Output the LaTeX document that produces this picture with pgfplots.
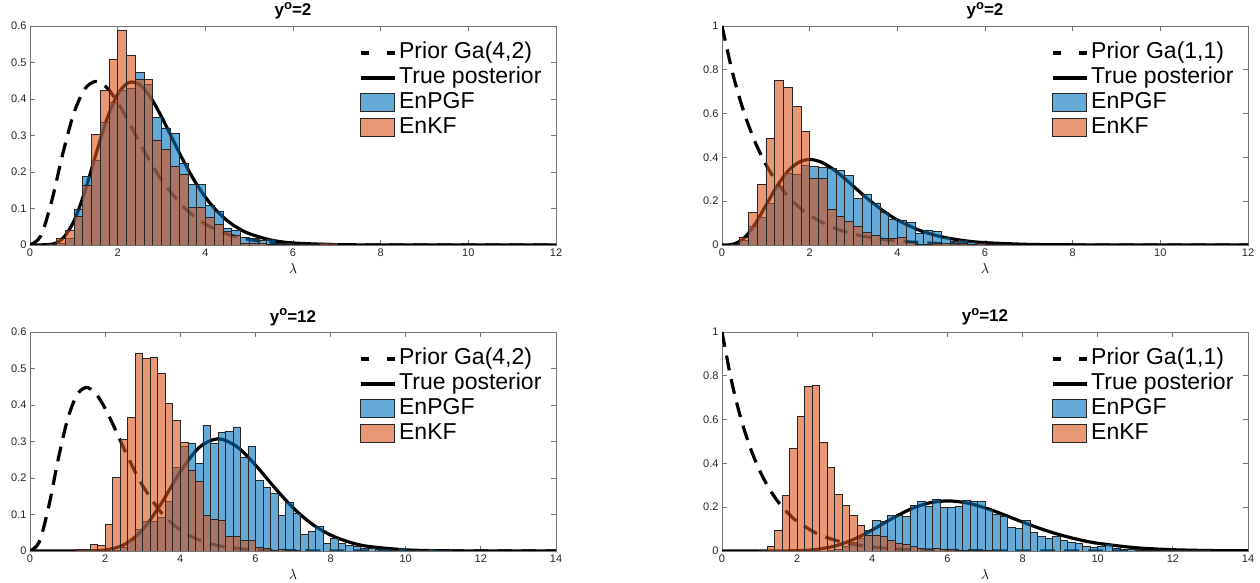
\documentclass[border=0pt]{standalone}
\usepackage{fontspec}
\setmainfont{Liberation Sans}
\usepackage{pgfplots}
\pgfplotsset{compat=1.18}
\definecolor{pgfblue}{rgb}{0,0.447,0.741}
\definecolor{kforange}{rgb}{0.85,0.325,0.098}
\newcommand{\yo}{y\raisebox{0.38em}{\fontsize{13}{13}\selectfont o}}
\pgfplotsset{
  panel/.style={
    scale only axis, width=526pt, height=219pt,
    axis line style={draw=black!55, line width=0.8pt},
    every tick/.style={draw=black!55, line width=0.8pt},
    major tick length=5pt,
    tick align=inside,
    ticklabel style={font=\fontsize{11}{13}\selectfont, text=black!85},
    /pgf/number format/assume math mode=true,
    title style={font=\bfseries\fontsize{17}{19}\selectfont, at={(0.5,1)}, anchor=base, yshift=4pt, inner sep=0pt},
    xlabel={$\lambda$},
    xlabel style={font=\fontsize{14}{15}\selectfont, at={(0.5,0)}, anchor=base, yshift=-29pt, inner sep=0pt},
    legend style={draw=none, fill=none, font=\fontsize{23}{25}\selectfont,
      at={(0.625,0.93)}, anchor=north west, inner sep=0pt, row sep=2pt, column sep=2pt,
      nodes={inner sep=1pt, text height=16pt, text depth=5pt}},
    legend cell align=left,
    xmin=0, ymin=0,
  },
  prior/.style={black, line width=3.2pt, dash pattern=on 15pt off 9pt, smooth,
    legend image code/.code={\draw[black, line width=3.2pt] (0pt,0pt)--(8pt,0pt) (26pt,0pt)--(34pt,0pt);}},
  post/.style={black, line width=3.2pt, smooth,
    legend image code/.code={\draw[black, line width=3.2pt] (0pt,0pt)--(34pt,0pt);}},
  hpgf/.style={ybar interval, fill=pgfblue, fill opacity=0.6, draw=black!85, line width=0.6pt,
    legend image code/.code={\draw[fill=pgfblue, fill opacity=0.6, draw=black!85, line width=0.6pt] (0pt,-8pt) rectangle (34pt,10pt);}},
  hkf/.style={ybar interval, fill=kforange, fill opacity=0.6, draw=black!85, line width=0.6pt,
    legend image code/.code={\draw[fill=kforange, fill opacity=0.6, draw=black!85, line width=0.6pt] (0pt,-8pt) rectangle (34pt,10pt);}},
}
\begin{document}
\begin{tikzpicture}
\path[use as bounding box] (0,0) rectangle (1260pt,583pt);
% ---------------- Panel 1
\begin{axis}[panel, at={(30pt,338pt)}, anchor=south west,
  xmax=12, ymax=0.6, xtick={0,2,4,6,8,10,12}, ytick={0,0.1,0.2,0.3,0.4,0.5,0.6},
  title={\yo=2}]
\addplot[prior] coordinates {(0,0)(0.25,0.0253)(0.5,0.1226)(0.75,0.2510)(1,0.3609)(1.25,0.4275)(1.5,0.4481)(1.75,0.4316)(2,0.3907)(2.25,0.3374)(2.5,0.2807)(2.75,0.2267)(3,0.1785)(3.5,0.1043)(4,0.0573)(4.5,0.0300)(5,0.0151)(5.5,0.0074)(6,0.0035)(7,0.0008)(8,0.0002)(9,0)(12,0)};
\addlegendentry{Prior Ga(4,2)}
\addplot[post] coordinates {(0,0)(0.5,0.0023)(0.75,0.0183)(1,0.0648)(1.25,0.1460)(1.5,0.2471)(1.75,0.3434)(2,0.4130)(2.25,0.4450)(2.5,0.4395)(2.75,0.4045)(3,0.3514)(3.25,0.2907)(3.5,0.2306)(3.75,0.1766)(4,0.1311)(4.25,0.0946)(4.5,0.0667)(4.75,0.0460)(5,0.0311)(5.5,0.0135)(6,0.0056)(7,0.0008)(8,0.0001)(9,0)(12,0)};
\addlegendentry{True posterior}
\addplot[hpgf] coordinates {(0.6,0.005)(0.8,0.018)(1.0,0.098)(1.2,0.188)(1.4,0.233)(1.6,0.336)(1.8,0.391)(2.0,0.424)(2.2,0.428)(2.4,0.473)(2.6,0.439)(2.8,0.351)(3.0,0.321)(3.2,0.307)(3.4,0.224)(3.6,0.167)(3.8,0.167)(4.0,0.109)(4.2,0.093)(4.4,0.046)(4.6,0.041)(4.8,0.021)(5.0,0.018)(5.2,0.012)(5.4,0.016)(5.6,0.005)(5.8,0.004)(6.0,0.003)(6.2,0.002)(6.4,0.001)(6.6,0.001)(6.8,0)};
\addlegendentry{EnPGF}
\addplot[hkf] coordinates {(0.4,0.003)(0.6,0.018)(0.8,0.041)(1.0,0.078)(1.2,0.163)(1.4,0.304)(1.6,0.423)(1.8,0.510)(2.0,0.588)(2.2,0.521)(2.4,0.453)(2.6,0.453)(2.8,0.288)(3.0,0.261)(3.2,0.215)(3.4,0.195)(3.6,0.104)(3.8,0.104)(4.0,0.076)(4.2,0.057)(4.4,0.037)(4.6,0.026)(4.8,0.006)(5.0,0.006)(5.2,0.005)(5.4,0.002)(5.6,0.002)(5.8,0.003)(6.0,0.002)(6.2,0.001)(6.4,0.001)(6.6,0.004)(6.8,0.004)(7.0,0)};
\addlegendentry{EnKF}
\end{axis}
% ---------------- Panel 2
\begin{axis}[panel, at={(722pt,338pt)}, anchor=south west,
  xmax=12, ymax=1, xtick={0,2,4,6,8,10,12}, ytick={0,0.2,0.4,0.6,0.8,1},
  title={\yo=2}]
\addplot[prior] coordinates {(0,1)(0.25,0.7788)(0.5,0.6065)(0.75,0.4724)(1,0.3679)(1.25,0.2865)(1.5,0.2231)(1.75,0.1738)(2,0.1353)(2.5,0.0821)(3,0.0498)(3.5,0.0302)(4,0.0183)(4.5,0.0111)(5,0.0067)(6,0.0025)(7,0.0009)(8,0.0003)(9,0.0001)(10,0)(12,0)};
\addlegendentry{Prior Ga(1,1)}
\addplot[post] coordinates {(0,0)(0.25,0.0032)(0.5,0.0307)(0.75,0.0941)(1,0.1804)(1.25,0.2672)(1.5,0.3361)(1.75,0.3776)(2,0.3907)(2.25,0.3796)(2.5,0.3509)(2.75,0.3116)(3,0.2677)(3.25,0.2236)(3.5,0.1825)(3.75,0.1458)(4,0.1145)(4.5,0.0675)(5,0.0378)(5.5,0.0204)(6,0.0106)(7,0.0027)(8,0.0006)(9,0.0001)(10,0)(12,0)};
\addlegendentry{True posterior}
\addplot[hpgf] coordinates {(0.2,0.003)(0.4,0.020)(0.6,0.084)(0.8,0.127)(1.0,0.189)(1.2,0.267)(1.4,0.328)(1.6,0.322)(1.8,0.362)(2.0,0.360)(2.2,0.354)(2.4,0.351)(2.6,0.340)(2.8,0.319)(3.0,0.212)(3.2,0.232)(3.4,0.191)(3.6,0.148)(3.8,0.119)(4.0,0.115)(4.2,0.102)(4.4,0.053)(4.6,0.069)(4.8,0.061)(5.0,0.035)(5.2,0.015)(5.4,0.020)(5.6,0.012)(5.8,0.008)(6.0,0.005)(6.2,0.003)(6.4,0.002)(6.6,0)};
\addlegendentry{EnPGF}
\addplot[hkf] coordinates {(0.4,0.035)(0.6,0.148)(0.8,0.275)(1.0,0.489)(1.2,0.751)(1.4,0.718)(1.6,0.634)(1.8,0.518)(2.0,0.305)(2.2,0.305)(2.4,0.163)(2.6,0.130)(2.8,0.107)(3.0,0.087)(3.2,0.060)(3.4,0.043)(3.6,0.029)(3.8,0.029)(4.0,0.034)(4.2,0.012)(4.4,0.002)(4.6,0.005)(4.8,0.008)(5.0,0.008)(5.2,0.006)(5.4,0.008)(5.6,0.004)(5.8,0.006)(6.0,0.003)(6.2,0)};
\addlegendentry{EnKF}
\end{axis}
% ---------------- Panel 3
\begin{axis}[panel, at={(30pt,32pt)}, anchor=south west,
  xmax=14, ymax=0.6, xtick={0,2,4,6,8,10,12,14}, ytick={0,0.1,0.2,0.3,0.4,0.5,0.6},
  title={\yo=12}]
\addplot[prior] coordinates {(0,0)(0.25,0.0253)(0.5,0.1226)(0.75,0.2510)(1,0.3609)(1.25,0.4275)(1.5,0.4481)(1.75,0.4316)(2,0.3907)(2.25,0.3374)(2.5,0.2807)(2.75,0.2267)(3,0.1785)(3.5,0.1043)(4,0.0573)(4.5,0.0300)(5,0.0151)(5.5,0.0074)(6,0.0035)(7,0.0008)(8,0.0002)(9,0)(14,0)};
\addlegendentry{Prior Ga(4,2)}
\addplot[post] coordinates {(0,0)(1,0)(1.5,0.0002)(2,0.0027)(2.5,0.0170)(3,0.0583)(3.5,0.1313)(4,0.2171)(4.5,0.2835)(5,0.3074)(5.5,0.2863)(6,0.2356)(6.5,0.1748)(7,0.1185)(7.5,0.0744)(8,0.0437)(8.5,0.0242)(9,0.0127)(10,0.0031)(11,0.0006)(12,0.0001)(13,0)(14,0)};
\addlegendentry{True posterior}
\addplot[hpgf] coordinates {(2.2,0.003)(2.4,0.010)(2.6,0.030)(2.8,0.059)(3.0,0.082)(3.2,0.082)(3.4,0.093)(3.6,0.135)(3.8,0.228)(4.0,0.287)(4.2,0.296)(4.4,0.240)(4.6,0.345)(4.8,0.295)(5.0,0.324)(5.2,0.328)(5.4,0.340)(5.6,0.256)(5.8,0.287)(6.0,0.194)(6.2,0.174)(6.4,0.158)(6.6,0.098)(6.8,0.134)(7.0,0.103)(7.2,0.045)(7.4,0.055)(7.6,0.068)(7.8,0.021)(8.0,0.035)(8.2,0.021)(8.4,0.015)(8.6,0.012)(8.8,0.007)(9.0,0.007)(9.2,0.004)(9.4,0.004)(9.6,0.002)(9.8,0.007)(10.0,0.003)(10.2,0.002)(10.4,0.001)(10.6,0.004)(10.8,0.002)(11.0,0.003)(11.2,0)};
\addlegendentry{EnPGF}
\addplot[hkf] coordinates {(1.2,0.004)(1.4,0.004)(1.6,0.018)(1.8,0.016)(2.0,0.074)(2.2,0.202)(2.4,0.305)(2.6,0.366)(2.8,0.541)(3.0,0.527)(3.2,0.532)(3.4,0.486)(3.6,0.404)(3.8,0.358)(4.0,0.299)(4.2,0.220)(4.4,0.191)(4.6,0.098)(4.8,0.088)(5.0,0.085)(5.2,0.041)(5.4,0.039)(5.6,0.030)(5.8,0.030)(6.0,0.009)(6.2,0.007)(6.4,0.003)(6.6,0.005)(6.8,0.002)(7.0,0.002)(7.2,0)};
\addlegendentry{EnKF}
\end{axis}
% ---------------- Panel 4
\begin{axis}[panel, at={(722pt,32pt)}, anchor=south west,
  xmax=14, ymax=1, xtick={0,2,4,6,8,10,12,14}, ytick={0,0.2,0.4,0.6,0.8,1},
  title={\yo=12}]
\addplot[prior] coordinates {(0,1)(0.25,0.7788)(0.5,0.6065)(0.75,0.4724)(1,0.3679)(1.25,0.2865)(1.5,0.2231)(1.75,0.1738)(2,0.1353)(2.5,0.0821)(3,0.0498)(3.5,0.0302)(4,0.0183)(4.5,0.0111)(5,0.0067)(6,0.0025)(7,0.0009)(8,0.0003)(9,0.0001)(10,0)(14,0)};
\addlegendentry{Prior Ga(1,1)}
\addplot[post] coordinates {(0,0)(1,0)(2,0.0013)(2.5,0.0069)(3,0.0225)(3.5,0.0527)(4,0.0963)(4.5,0.1456)(5,0.1896)(5.5,0.2189)(6,0.2288)(6.5,0.2200)(7,0.1969)(7.5,0.1658)(8,0.1322)(8.5,0.1007)(9,0.0736)(9.5,0.0518)(10,0.0353)(11,0.0150)(12,0.0058)(13,0.0020)(14,0.0007)};
\addlegendentry{True posterior}
\addplot[hpgf] coordinates {(2.8,0.003)(3.0,0.008)(3.2,0.020)(3.4,0.040)(3.6,0.060)(3.8,0.095)(4.0,0.140)(4.2,0.134)(4.4,0.163)(4.6,0.164)(4.8,0.157)(5.0,0.210)(5.2,0.228)(5.4,0.202)(5.6,0.236)(5.8,0.198)(6.0,0.199)(6.2,0.202)(6.4,0.232)(6.6,0.225)(6.8,0.228)(7.0,0.191)(7.2,0.169)(7.4,0.160)(7.6,0.108)(7.8,0.102)(8.0,0.141)(8.2,0.084)(8.4,0.065)(8.6,0.059)(8.8,0.068)(9.0,0.047)(9.2,0.041)(9.4,0.035)(9.6,0.023)(9.8,0.017)(10.0,0.020)(10.2,0.030)(10.4,0.012)(10.6,0.008)(10.8,0.008)(11.0,0.005)(11.2,0.004)(11.4,0.003)(11.6,0.002)(11.8,0.002)(12.0,0.001)(12.2,0.001)(12.4,0.003)(12.6,0.001)(12.8,0.002)(13.0,0)};
\addlegendentry{EnPGF}
\addplot[hkf] coordinates {(1.0,0.005)(1.2,0.020)(1.4,0.096)(1.6,0.255)(1.8,0.470)(2.0,0.617)(2.2,0.751)(2.4,0.755)(2.6,0.495)(2.8,0.380)(3.0,0.258)(3.2,0.208)(3.4,0.161)(3.6,0.116)(3.8,0.070)(4.0,0.073)(4.2,0.068)(4.4,0.047)(4.6,0.035)(4.8,0.030)(5.0,0.020)(5.2,0.012)(5.4,0.009)(5.6,0.011)(5.8,0.008)(6.0,0.006)(6.2,0.004)(6.4,0.003)(6.6,0.004)(6.8,0.002)(7.0,0.001)(7.2,0)};
\addlegendentry{EnKF}
\end{axis}
\end{tikzpicture}
\end{document}
